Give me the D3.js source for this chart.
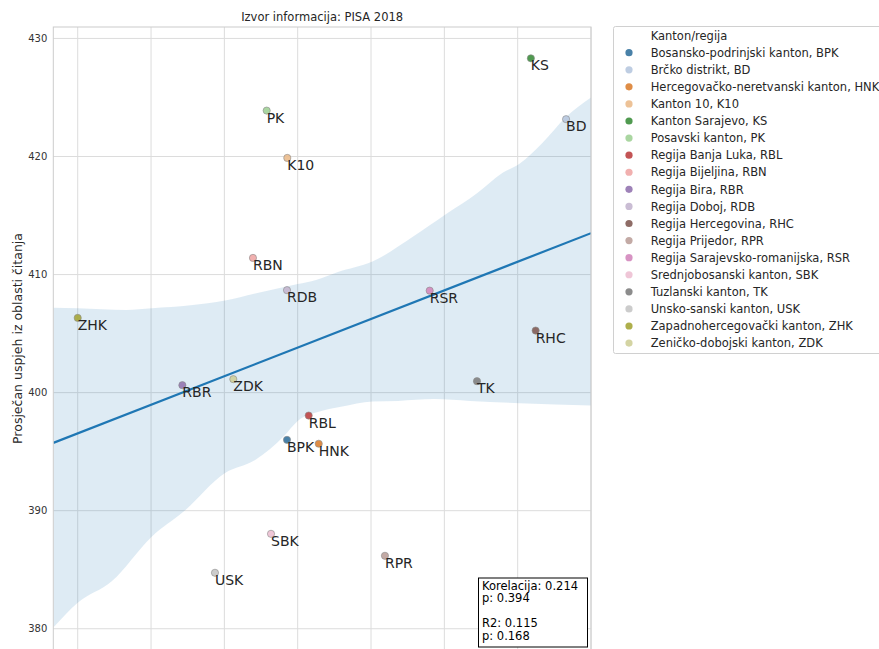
<!DOCTYPE html>
<html>
<head>
<meta charset="utf-8">
<script src="https://cdn.jsdelivr.net/npm/d3@7"></script>
<style>
  html, body { margin: 0; padding: 0; background: #fff; }
  svg { display: block; font-family: "DejaVu Sans", sans-serif; }
</style>
</head>
<body>
<svg id="chart" width="879" height="649"></svg>
<script>
// ---- data ----
const names = [
  "Bosansko-podrinjski kanton, BPK", "Brčko distrikt, BD", "Hercegovačko-neretvanski kanton, HNK",
  "Kanton 10, K10", "Kanton Sarajevo, KS", "Posavski kanton, PK", "Regija Banja Luka, RBL",
  "Regija Bijeljina, RBN", "Regija Bira, RBR", "Regija Doboj, RDB", "Regija Hercegovina, RHC",
  "Regija Prijedor, RPR", "Regija Sarajevsko-romanijska, RSR", "Srednjobosanski kanton, SBK",
  "Tuzlanski kanton, TK", "Unsko-sanski kanton, USK", "Zapadnohercegovački kanton, ZHK",
  "Zeničko-dobojski kanton, ZDK"
];
const codes = ["BPK","BD","HNK","K10","KS","PK","RBL","RBN","RBR","RDB","RHC","RPR","RSR","SBK","TK","USK","ZHK","ZDK"];
const xValues = [2.854, 6.66, 3.287, 2.858, 6.18, 2.577, 3.15, 2.39, 1.427, 2.854, 6.245, 4.19, 4.80, 2.636, 5.445, 1.872, 0.0, 2.122];
const yValues = [396.0, 423.16, 395.67, 419.88, 428.32, 423.89, 398.06, 411.41, 400.63, 408.68, 405.26, 386.18, 408.64, 388.04, 400.97, 384.74, 406.33, 401.14];
const baseColors = ["#1f77b4","#aec7e8","#ff7f0e","#ffbb78","#2ca02c","#98df8a","#d62728","#ff9896","#9467bd","#c5b0d5","#8c564b","#c49c94","#e377c2","#f7b6d2","#7f7f7f","#c7c7c7","#bcbd22","#dbdb8d"];

// confidence band
const bandUpperX = [-0.333, 0, 0.66, 1.01, 1.54, 2.01, 2.42, 3.0, 3.25, 3.54, 4.02, 4.57, 5.02, 5.45, 5.79, 6.03, 6.33, 6.67, 7.0];
const bandUpperY = [407.2, 407.15, 407.0, 407.15, 407.4, 407.8, 408.4, 409.2, 409.55, 410.2, 411.1, 413.2, 415.1, 416.9, 418.6, 419.4, 421.1, 423.4, 425.0];
const bandLowerX = [-0.333, 0, 0.46, 1.01, 1.44, 2.01, 2.42, 2.81, 3.0, 3.30, 3.59, 4.02, 4.37, 4.86, 5.35, 6.03, 7.0];
const bandLowerY = [380.1, 382.2, 384.0, 387.8, 389.9, 393.2, 394.3, 396.3, 397.6, 398.4, 398.8, 399.25, 399.3, 399.45, 399.3, 399.1, 398.9];

const xTicks = [0, 1, 2, 3, 4, 5, 6, 7];
const yTicks = [380, 390, 400, 410, 420, 430];
const xDomain = [-0.333, 7.0];
const yDomain = [378.2, 430.97];

const titleText = "Izvor informacija: PISA 2018";
const yLabelText = "Prosječan uspjeh iz oblasti čitanja";
const legendTitle = "Kanton/regija";
const statsLines = ["Korelacija: 0.214", "p: 0.394", "", "R2: 0.115", "p: 0.168"];

// muted palette (desaturated like the reference)
const colors = baseColors.map(c => { const h = d3.hsl(c); h.s *= 0.7; return h.formatHex(); });

// ---- layout ----
const svg = d3.select("#chart");
const L = 53.3, R = 591, T = 27, B = 650;
const x = d3.scaleLinear().domain(xDomain).range([L, R]);
const y = d3.scaleLinear().domain(yDomain).range([B, T]);

svg.append("defs").append("clipPath").attr("id", "plotclip")
  .append("rect").attr("x", L).attr("y", T).attr("width", R - L).attr("height", B - T);

// grid
const grid = svg.append("g");
grid.selectAll("line.gx").data(xTicks).join("line")
  .attr("x1", d => x(d)).attr("x2", d => x(d)).attr("y1", T).attr("y2", B)
  .attr("stroke", "#dcdcdc").attr("stroke-width", 1);
grid.selectAll("line.gy").data(yTicks).join("line")
  .attr("y1", d => y(d)).attr("y2", d => y(d)).attr("x1", L).attr("x2", R)
  .attr("stroke", "#dcdcdc").attr("stroke-width", 1);

// y axis
const yAxis = d3.axisLeft(y).tickValues(yTicks).tickSize(0).tickPadding(6);
svg.append("g").attr("transform", `translate(${L},0)`).call(yAxis)
  .call(g => g.select(".domain").remove())
  .call(g => g.selectAll("text").attr("font-size", 10).attr("fill", "#333").attr("font-family", "DejaVu Sans"));

const plot = svg.append("g").attr("clip-path", "url(#plotclip)");

// band
const upper = bandUpperX.map((v, i) => [v, bandUpperY[i]]);
const lower = bandLowerX.map((v, i) => [v, bandLowerY[i]]).reverse();
const edge = d3.line().x(d => x(d[0])).y(d => y(d[1])).curve(d3.curveMonotoneX);
const lowerPath = d3.line().x(d => x(d[0])).y(d => y(d[1])).curve(d3.curveMonotoneX)(lower);
plot.append("path")
  .attr("d", edge(upper) + "L" + lowerPath.slice(1) + "Z")
  .attr("fill", "#1f77b4").attr("fill-opacity", 0.15).attr("stroke", "none");

// regression line (least squares from data)
const n = xValues.length;
const mx = d3.mean(xValues), my = d3.mean(yValues);
let sxy = 0, sxx = 0;
for (let i = 0; i < n; i++) { sxy += (xValues[i] - mx) * (yValues[i] - my); sxx += (xValues[i] - mx) ** 2; }
const slope = sxy / sxx, icpt = my - slope * mx;
plot.append("line")
  .attr("x1", x(xDomain[0])).attr("y1", y(icpt + slope * xDomain[0]))
  .attr("x2", x(xDomain[1])).attr("y2", y(icpt + slope * xDomain[1]))
  .attr("stroke", "#1f77b4").attr("stroke-width", 2.2);

// frame
svg.append("rect").attr("x", L).attr("y", T).attr("width", R - L).attr("height", B - T)
  .attr("fill", "none").attr("stroke", "#cccccc").attr("stroke-width", 1);

// points
const pts = d3.range(n);
plot.selectAll("circle.pt").data(pts).join("circle")
  .attr("cx", i => x(xValues[i])).attr("cy", i => y(yValues[i])).attr("r", 3.6)
  .attr("fill", i => colors[i]).attr("fill-opacity", 0.9)
  .attr("stroke", "#8a8a8a").attr("stroke-width", 0.6);

// point labels
plot.selectAll("text.lbl").data(pts).join("text")
  .attr("x", i => x(xValues[i])).attr("y", i => y(yValues[i]) + 12)
  .attr("font-size", 14).attr("fill", "#262626")
  .text(i => codes[i]);

// title
svg.append("text").attr("x", (L + R) / 2).attr("y", 21).attr("text-anchor", "middle")
  .attr("font-size", 11.5).attr("fill", "#262626").text(titleText);

// y label
svg.append("text").attr("transform", `translate(21.5,${(T + B) / 2}) rotate(-90)`)
  .attr("text-anchor", "middle").attr("font-size", 12.5).attr("fill", "#262626").text(yLabelText);

// stats box
const sb = svg.append("g");
sb.append("rect").attr("x", 478.5).attr("y", 578).attr("width", 109).attr("height", 69)
  .attr("fill", "#fff").attr("stroke", "#000").attr("stroke-width", 1);
sb.selectAll("text").data(statsLines).join("text")
  .attr("x", 482).attr("y", (d, i) => 589.5 + i * 12.6)
  .attr("font-size", 11.5).attr("fill", "#000").text(d => d);

// legend
const lg = svg.append("g");
lg.append("rect").attr("x", 613.5).attr("y", 26.5).attr("width", 300).attr("height", 327)
  .attr("rx", 2).attr("fill", "#fff").attr("stroke", "#d0d0d0").attr("stroke-width", 1);
lg.append("text").attr("x", 650.7).attr("y", 39.5).attr("font-size", 11.5).attr("fill", "#262626").text(legendTitle);
const rows = lg.selectAll("g.row").data(pts).join("g")
  .attr("transform", i => `translate(0,${52.7 + i * 17.08})`);
rows.append("circle").attr("cx", 629).attr("cy", 0).attr("r", 3.6)
  .attr("fill", i => colors[i]).attr("fill-opacity", 0.9);
rows.append("text").attr("x", 650.7).attr("y", 4.2).attr("font-size", 11.5).attr("fill", "#262626")
  .text(i => names[i]);
</script>
</body>
</html>
